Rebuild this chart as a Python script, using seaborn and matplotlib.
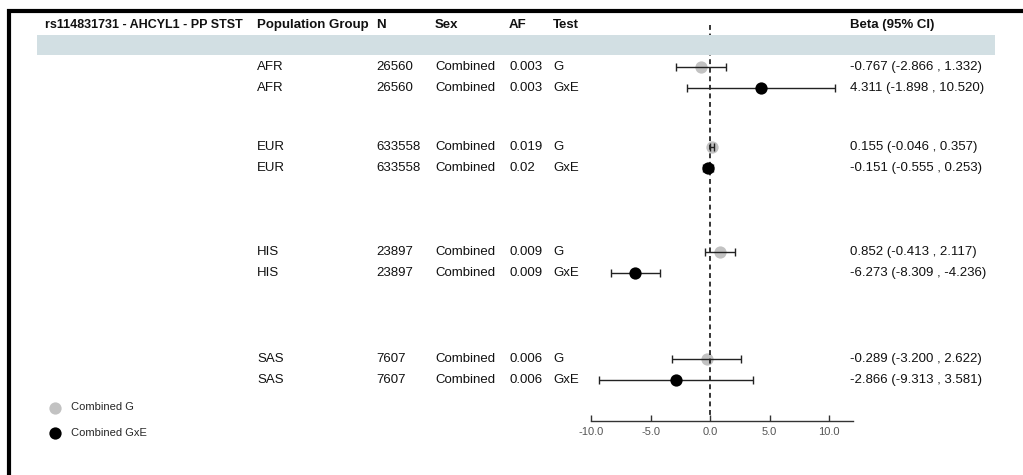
import pandas as pd
import matplotlib
matplotlib.use("Agg")
import matplotlib.pyplot as plt
import matplotlib.transforms as mtransforms
from matplotlib.lines import Line2D
from matplotlib.patches import Rectangle
import seaborn as sns

# data
title = "rs114831731 - AHCYL1 - PP STST"
pops = ["AFR", "AFR", "EUR", "EUR", "HIS", "HIS", "SAS", "SAS"]
n_vals = [26560, 26560, 633558, 633558, 23897, 23897, 7607, 7607]
sex = ["Combined", "Combined", "Combined", "Combined", "Combined", "Combined", "Combined", "Combined"]
af = ["0.003", "0.003", "0.019", "0.02", "0.009", "0.009", "0.006", "0.006"]
tests = ["G", "GxE", "G", "GxE", "G", "GxE", "G", "GxE"]
beta = [-0.767, 4.311, 0.155, -0.151, 0.852, -6.273, -0.289, -2.866]
ci_lo = [-2.866, -1.898, -0.046, -0.555, -0.413, -8.309, -3.200, -9.313]
ci_hi = [1.332, 10.520, 0.357, 0.253, 2.117, -4.236, 2.622, 3.581]
x_ticks = [-10.0, -5.0, 0.0, 5.0, 10.0]

# layout (pixel rows of the 1023x475 picture)
W, H = 1023, 475
row_y = [67, 88, 147, 168, 252, 273, 359, 380]

df = pd.DataFrame({"pop": pops, "n": n_vals, "sex": sex, "af": af, "test": tests,
                   "beta": beta, "lo": ci_lo, "hi": ci_hi, "y": row_y})

sns.set_theme(style="white")
plt.rcParams["font.family"] = ["Liberation Sans", "DejaVu Sans"]

fig = plt.figure(figsize=(W / 100, H / 100), dpi=100)
ax = fig.add_axes([591 / W, 1 - 421 / H, (853 - 591) / W, (421 - 20) / H])
ax.set_xlim(-10, 12)
ax.set_ylim(421, 20)
ax.patch.set_alpha(0)

# zero line
ax.vlines(0, 25, 417, colors="black", linestyles=(0, (3.2, 2.4)), linewidth=1.1, zorder=2.5)

g = df[df["test"] == "G"]
gxe = df[df["test"] == "GxE"]
sns.scatterplot(data=g, x="beta", y="y", color="#c2c2c2", s=78, linewidth=0,
                label="Combined G", zorder=2, ax=ax)
ax.errorbar(df["beta"], df["y"], xerr=[df["beta"] - df["lo"], df["hi"] - df["beta"]],
            fmt="none", ecolor="#222222", elinewidth=1, capsize=3.2, capthick=1, zorder=3)
sns.scatterplot(data=gxe, x="beta", y="y", color="black", s=78, linewidth=0,
                label="Combined GxE", zorder=4, ax=ax)

# axis styling
for side in ["top", "right", "left"]:
    ax.spines[side].set_visible(False)
ax.spines["bottom"].set_color("#333333")
ax.spines["bottom"].set_linewidth(1)
ax.spines["bottom"].set_bounds(-10, 12)
ax.set_xticks(x_ticks)
ax.set_xticklabels([f"{t:.1f}" for t in x_ticks])
ax.set_yticks([])
ax.tick_params(axis="x", direction="in", length=4, width=1, color="#333333",
               labelsize=8, labelcolor="#555555", pad=4, bottom=True)
ax.set_xlabel("")
ax.set_ylabel("")

leg = ax.legend(loc="center left", bbox_to_anchor=(49 / W, 1 - 420 / H),
                bbox_transform=fig.transFigure, frameon=False, fontsize=8,
                handlelength=1, handletextpad=1.0, labelspacing=1.35,
                borderpad=0, borderaxespad=0, markerscale=1.0)

# table text
trans = mtransforms.blended_transform_factory(fig.transFigure, ax.transData)
txt = dict(transform=trans, va="center", ha="left", fontsize=9.5, color="#111111")
hdr_y = 25
heads = [(45, title, 9.0), (257, "Population Group", 9.5), (376, "N", 9.5),
         (435, "Sex", 9.5), (509, "AF", 9.5), (553, "Test", 9.5),
         (850, "Beta (95% CI)", 9.5)]
for x, s, fs in heads:
    ax.text(x / W, hdr_y, s, fontweight="bold", clip_on=False,
            **{**txt, "fontsize": fs})

fig.patches.append(Rectangle((37 / W, 1 - 55 / H), (995 - 37) / W, 20 / H,
                             transform=fig.transFigure, facecolor="#d2dfe3",
                             edgecolor="none", zorder=0))
ax.text(48 / W, 45, "Population Group Results", clip_on=False, **txt)

for _, r in df.iterrows():
    ax.text(257 / W, r["y"], r["pop"], **txt)
    ax.text(376 / W, r["y"], str(r["n"]), **txt)
    ax.text(435 / W, r["y"], r["sex"], **txt)
    ax.text(509 / W, r["y"], r["af"], **txt)
    ax.text(553 / W, r["y"], r["test"], **txt)
    ax.text(850 / W, r["y"], f"{r['beta']:.3f} ({r['lo']:.3f} , {r['hi']:.3f})", **txt)

# frame lines (top and left)
fig.lines.append(Line2D([7 / W, 1], [1 - 11 / H, 1 - 11 / H], transform=fig.transFigure,
                        color="black", linewidth=3, solid_capstyle="butt"))
fig.lines.append(Line2D([8.5 / W, 8.5 / W], [1 - 9 / H, 0], transform=fig.transFigure,
                        color="black", linewidth=3, solid_capstyle="butt"))

fig.savefig("out.png", dpi=100)
